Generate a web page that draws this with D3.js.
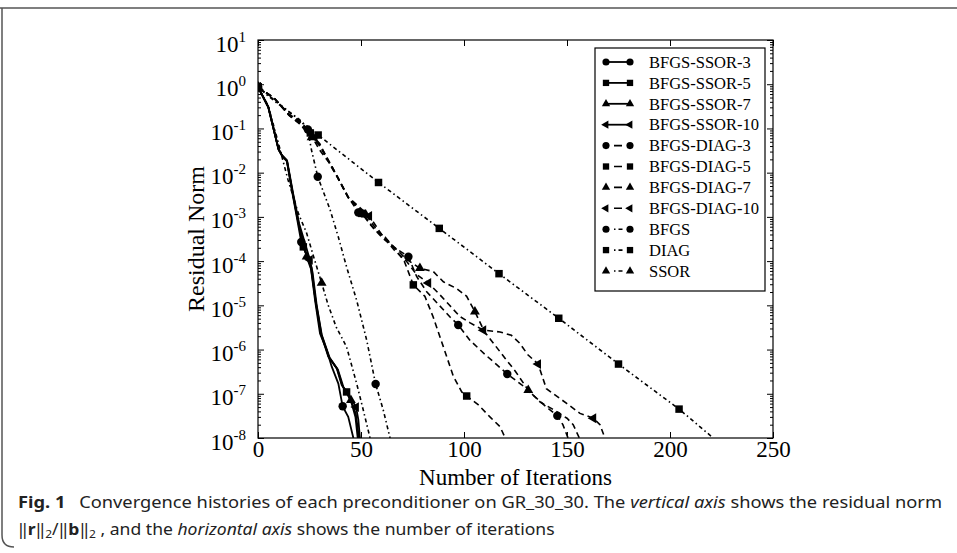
<!DOCTYPE html>
<html>
<head>
<meta charset="utf-8">
<script src="https://cdn.jsdelivr.net/npm/d3@7"></script>
<style>
body{margin:0;background:#fff}
svg{display:block}
</style>
</head>
<body>
<div id="chart"></div>
<script>
const W = 957, H = 553;

const xTicks = [0, 50, 100, 150, 200, 250];
const yDecades = [1, 0, -1, -2, -3, -4, -5, -6, -7, -8];
const legendLabels = ["BFGS-SSOR-3", "BFGS-SSOR-5", "BFGS-SSOR-7", "BFGS-SSOR-10",
  "BFGS-DIAG-3", "BFGS-DIAG-5", "BFGS-DIAG-7", "BFGS-DIAG-10", "BFGS", "DIAG", "SSOR"];

// [iteration, residual norm]
const ssor3 = [[0,0.87],[5,0.31],[9.9,0.035],[11.5,0.025],[13.9,0.0195],[16.4,4.1e-3],[18.5,1.2e-3],
  [21,2.7e-4],[23.5,1.4e-4],[25.5,8e-5],[27.7,1.3e-5],[30.1,2.3e-6],[33.3,9.8e-7],[35.8,4.1e-7],
  [39,1.7e-7],[41.1,5.2e-8],[43.8,3e-8],[46.3,1e-8]];
const ssor3Marks = [0, 21, 41.1];

const ssor5 = [[0,0.87],[5,0.31],[10,0.034],[11.6,0.025],[14,0.019],[16.6,3.9e-3],[19,1e-3],
  [22,2.1e-4],[24.5,1.1e-4],[26,7e-5],[28,1.2e-5],[30.5,2.3e-6],[34.1,6.9e-7],[38.2,3.8e-7],
  [40.6,1.6e-7],[43,1.1e-7],[45.5,6e-8],[47.3,3e-8],[48.4,1e-8]];
const ssor5Marks = [0, 22, 43];

const ssor7 = [[0,0.87],[5,0.3],[10,0.033],[11.7,0.024],[14.1,0.018],[16.8,3.6e-3],[19.5,8e-4],
  [23.6,1.26e-4],[25.8,6.5e-5],[28.2,1.1e-5],[30.8,2.2e-6],[34.5,6.7e-7],[38.5,3.6e-7],
  [41,1.5e-7],[45.1,7.2e-8],[47.5,3.5e-8],[49,1e-8]];
const ssor7Marks = [0, 23.6, 45.1];

const ssor10 = [[0,0.87],[5,0.3],[10,0.033],[11.8,0.024],[14.2,0.018],[17,3.5e-3],[20,7e-4],
  [25.2,1.07e-4],[26.5,5.5e-5],[28.5,1e-5],[31,2.1e-6],[34.8,6.5e-7],[38.8,3.5e-7],
  [41.5,1.4e-7],[45,8e-8],[47.6,5e-8],[48.7,2.6e-8],[49.5,1e-8]];
const ssor10Marks = [0, 25.2, 47.6];

const diag3 = [[0,0.87],[8,0.48],[15,0.21],[20,0.15],[24.2,0.095],[30,0.032],[35.8,0.014],
  [38.7,7.9e-3],[43.8,2.8e-3],[48.7,1.26e-3],[52,1e-3],[56.8,5e-4],[61.7,3.5e-4],[65.7,2.1e-4],
  [73,1.26e-4],[77,4.5e-5],[82,2e-5],[88,1e-5],[93,5.6e-6],[97.2,3.6e-6],[103,1.6e-6],
  [110,7.9e-7],[116,4.5e-7],[121,2.8e-7],[128,1.6e-7],[134,8.9e-8],[140,5e-8],[145.3,3.2e-8],
  [148,2e-8],[150.5,1e-8]];
const diag3Marks = [0, 24.2, 48.7, 73, 97.2, 121, 145.3];

const diag5 = [[0,0.87],[8,0.48],[15,0.21],[20,0.14],[25.4,0.079],[30,0.045],[35.8,0.013],
  [38.7,7.6e-3],[43.8,2.75e-3],[50.4,1.2e-3],[55,6.3e-4],[60,3.5e-4],[66,2e-4],[71,1e-4],
  [75.4,2.9e-5],[81,1.6e-5],[85,5.5e-6],[90,1.15e-6],[94.8,2.5e-7],[98.9,1.1e-7],[101.3,8.9e-8],
  [107,5.6e-8],[112.6,3e-8],[117.5,1.8e-8],[120,1e-8]];
const diag5Marks = [0, 25.4, 50.4, 75.4, 101.3];

const diag7 = [[0,0.87],[8,0.47],[15,0.2],[20,0.13],[26,0.063],[30,0.04],[35.8,0.0135],
  [38.7,7.7e-3],[43.8,2.7e-3],[52.3,1.12e-3],[57,5.6e-4],[62,3.2e-4],[67,1.9e-4],[72,1.1e-4],
  [78.6,6.9e-5],[85.1,5.8e-5],[90,3.4e-5],[96.4,2.4e-5],[101.3,1.6e-5],[105.3,7.2e-6],
  [110,2.5e-6],[115,1.26e-6],[120,6.3e-7],[125,3.2e-7],[131.2,1.2e-7],[137,6.5e-8],
  [143,4.5e-8],[150,2.8e-8],[153,2e-8],[156,1e-8]];
const diag7Marks = [0, 26, 52.3, 78.6, 105.3, 131.2];

const diag10 = [[0,0.87],[8,0.47],[15,0.2],[20,0.13],[27.5,0.063],[31,0.035],[35.8,0.014],
  [38.7,7.8e-3],[43.8,2.8e-3],[54,1.05e-3],[60,4e-4],[66,1.8e-4],[72,1e-4],[77,5e-5],
  [82.7,3.2e-5],[88,1.8e-5],[93,1e-5],[98,5.6e-6],[103,4e-6],[109.4,2.75e-6],[117.5,2.5e-6],
  [123,2.1e-6],[127,1.4e-6],[131,7.6e-7],[136,4.7e-7],[140,1.3e-7],[150,6e-8],[156.3,3.6e-8],
  [162.8,2.8e-8],[166,2e-8],[168.4,1e-8]];
const diag10Marks = [0, 27.5, 54, 82.7, 109.4, 136, 162.8];

const bfgs = [[0,0.87],[5,0.54],[10,0.35],[15,0.24],[20,0.16],[24,0.1],[26,0.032],[29,8.1e-3],
  [35,1.45e-3],[39,3.5e-4],[43,7.4e-5],[47.9,1.3e-5],[52.8,1.6e-6],[57.1,1.66e-7],[60.8,4.3e-8],
  [64.1,1e-8]];
const bfgsMarks = [0, 29, 57.1];

const diag = [[0,0.87],[29.2,0.071],[58.5,6e-3],[88,5.5e-4],[117,5.2e-5],[146,5.1e-6],
  [175,4.7e-7],[204.4,4.5e-8],[221,1e-8]];
const diagMarks = [0, 29.2, 58.5, 88, 117, 146, 175, 204.4];

const ssor = [[0,0.87],[5,0.32],[10,0.045],[12,0.0195],[14.6,6.8e-3],[19.6,1.2e-3],[23.6,4.3e-4],
  [27,1.26e-4],[30.9,3.2e-5],[34.1,1e-5],[38,3.2e-6],[43,1.15e-6],[47.9,1.7e-7],[51.1,4.3e-8],
  [54.4,1e-8]];
const ssorMarks = [0, 30.9];

const series = [
  {data: ssor3, marks: ssor3Marks, dash: null, sym: "circle"},
  {data: ssor5, marks: ssor5Marks, dash: null, sym: "square"},
  {data: ssor7, marks: ssor7Marks, dash: null, sym: "triangle"},
  {data: ssor10, marks: ssor10Marks, dash: null, sym: "left"},
  {data: diag3, marks: diag3Marks, dash: "dash", sym: "circle"},
  {data: diag5, marks: diag5Marks, dash: "dash", sym: "square"},
  {data: diag7, marks: diag7Marks, dash: "dash", sym: "triangle"},
  {data: diag10, marks: diag10Marks, dash: "dash", sym: "left"},
  {data: bfgs, marks: bfgsMarks, dash: "dashdot", sym: "circle"},
  {data: diag, marks: diagMarks, dash: "dashdot", sym: "square"},
  {data: ssor, marks: ssorMarks, dash: "dashdot", sym: "triangle"}
];

const dashes = {dash: "6,4", dashdot: "1.5,3,4,3"};

const pLeft = 258, pRight = 773, pTop = 40, pBottom = 438;
const serif = "'Liberation Serif','Times New Roman',serif";

const svg = d3.select("#chart").append("svg")
    .attr("width", W)
    .attr("height", H);
svg.append("rect").attr("width", W).attr("height", H).attr("fill", "#fff");

// outer figure frame
svg.append("path")
    .attr("d", "M0,8 H957 M2,8 V535 Q2,547 14,547")
    .attr("fill", "none")
    .attr("stroke", "#555")
    .attr("stroke-width", 1.5);

const x = d3.scaleLinear().domain([0, 250]).range([pLeft, pRight]);
const y = d3.scaleLog().domain([1e-8, 10]).range([pBottom, pTop]);

const minors = [];
for (let e = -8; e < 1; e++) for (let m = 2; m <= 9; m++) minors.push(m * Math.pow(10, e));

const axisStyle = sel => {
  sel.select(".domain").remove();
  sel.selectAll(".tick line").attr("stroke", "#000").attr("stroke-width", 1);
  sel.selectAll("text").attr("font-family", serif).attr("font-size", 23).attr("fill", "#000");
};

svg.append("g")
    .attr("transform", "translate(0," + pBottom + ")")
    .call(d3.axisBottom(x).tickValues(xTicks).tickSizeInner(-6).tickSizeOuter(0).tickPadding(3))
    .call(axisStyle);

svg.append("g")
    .attr("transform", "translate(0," + pTop + ")")
    .call(d3.axisTop(x).tickValues(xTicks).tickSizeInner(-6).tickSizeOuter(0).tickFormat(""))
    .call(axisStyle);

const yMajor = yDecades.map(e => Math.pow(10, e));

const gl = svg.append("g")
    .attr("transform", "translate(" + pLeft + ",0)")
    .call(d3.axisLeft(y).tickValues(yMajor).tickSizeInner(-6).tickSizeOuter(0).tickFormat(""))
    .call(axisStyle);
gl.selectAll(".tick").append("text")
    .attr("x", -12)
    .attr("y", 11)
    .attr("text-anchor", "end")
    .attr("font-family", serif)
    .attr("font-size", 23)
    .attr("fill", "#000")
    .each(function(d) {
      const t = d3.select(this);
      t.append("tspan").text("10");
      t.append("tspan").attr("dy", -10).attr("font-size", 15).text(Math.round(Math.log10(d)));
    });
svg.append("g")
    .attr("transform", "translate(" + pLeft + ",0)")
    .call(d3.axisLeft(y).tickValues(minors).tickSizeInner(-3).tickSizeOuter(0).tickFormat(""))
    .call(axisStyle);

svg.append("g")
    .attr("transform", "translate(" + pRight + ",0)")
    .call(d3.axisRight(y).tickValues(yMajor).tickSizeInner(-6).tickSizeOuter(0).tickFormat(""))
    .call(axisStyle);
svg.append("g")
    .attr("transform", "translate(" + pRight + ",0)")
    .call(d3.axisRight(y).tickValues(minors).tickSizeInner(-3).tickSizeOuter(0).tickFormat(""))
    .call(axisStyle);

svg.append("defs").append("clipPath").attr("id", "clip")
  .append("rect").attr("x", pLeft).attr("y", pTop).attr("width", pRight - pLeft).attr("height", pBottom - pTop);

const plot = svg.append("g").attr("clip-path", "url(#clip)");

const line = d3.line()
    .x(d => x(d[0]))
    .y(d => y(d[1]));

const symPath = (sym, size) => {
  if (sym == "circle") return d3.symbol(d3.symbolCircle, size)();
  if (sym == "square") return d3.symbol(d3.symbolSquare, size)();
  return d3.symbol(d3.symbolTriangle, size * 0.75)();
};
const symRot = sym => sym == "left" ? " rotate(-90)" : "";

series.forEach(s => {
  plot.append("path")
      .datum(s.data)
      .attr("d", line)
      .attr("fill", "none")
      .attr("stroke", "#000")
      .attr("stroke-width", s.dash ? 1.6 : 1.8)
      .attr("stroke-dasharray", s.dash ? dashes[s.dash] : null);
  plot.selectAll(null)
      .data(s.data.filter(d => s.marks.includes(d[0])))
      .join("path")
      .attr("d", symPath(s.sym, 56))
      .attr("transform", d => "translate(" + x(d[0]) + "," + y(d[1]) + ")" + symRot(s.sym))
      .attr("fill", "#000");
});

svg.append("rect")
    .attr("x", pLeft).attr("y", pTop)
    .attr("width", pRight - pLeft).attr("height", pBottom - pTop)
    .attr("fill", "none")
    .attr("stroke", "#000")
    .attr("stroke-width", 1.2);

// legend
const lg = svg.append("g").attr("transform", "translate(595,48)");
lg.append("rect")
    .attr("width", 170).attr("height", 243)
    .attr("fill", "#fff").attr("stroke", "#000").attr("stroke-width", 1.2);
const rows = lg.selectAll(".row")
    .data(series)
    .join("g")
    .attr("transform", (d, i) => "translate(0," + (14 + i * 20.9) + ")");
rows.append("line")
    .attr("x1", 11).attr("x2", 35)
    .attr("stroke", "#000")
    .attr("stroke-width", d => d.dash ? 1.6 : 1.8)
    .attr("stroke-dasharray", d => d.dash == "dash" ? "0,8,8,8" : d.dash == "dashdot" ? "0,8,1.5,3,4,8" : null);
rows.selectAll(".m")
    .data(d => [[11, d.sym], [35, d.sym]])
    .join("path")
    .attr("d", d => symPath(d[1], 40))
    .attr("transform", d => "translate(" + d[0] + ",0)" + symRot(d[1]))
    .attr("fill", "#000");
rows.append("text")
    .attr("x", 54)
    .attr("dy", "0.35em")
    .attr("font-family", serif)
    .attr("font-size", 16.5)
    .text((d, i) => legendLabels[i]);

// axis titles
svg.append("text")
    .attr("x", (pLeft + pRight) / 2)
    .attr("y", 485)
    .attr("text-anchor", "middle")
    .attr("font-family", serif)
    .attr("font-size", 23)
    .text("Number of Iterations");
svg.append("text")
    .attr("transform", "translate(204," + (pTop + pBottom) / 2 + ") rotate(-90)")
    .attr("text-anchor", "middle")
    .attr("font-family", serif)
    .attr("font-size", 24)
    .text("Residual Norm");

// caption
const sans = "'Noto Sans','Open Sans',sans-serif";
const cap1 = svg.append("text").attr("font-family", sans).attr("font-size", 16).attr("fill", "#222");
cap1.append("tspan").attr("font-weight", "bold").text("Fig. 1");
cap1.append("tspan").text("\u2002 Convergence histories of each preconditioner on GR_30_30. The ");
cap1.append("tspan").attr("font-style", "italic").text("vertical axis");
cap1.append("tspan").text(" shows the residual norm");

const cap2 = svg.append("text").attr("font-family", sans).attr("font-size", 16).attr("fill", "#222");
cap2.append("tspan").text("\u2016");
cap2.append("tspan").attr("font-weight", "bold").text("r");
cap2.append("tspan").text("\u2016");
cap2.append("tspan").attr("font-size", 11).attr("dy", 3).text("2");
cap2.append("tspan").attr("dy", -3).text("/\u2016");
cap2.append("tspan").attr("font-weight", "bold").text("b");
cap2.append("tspan").text("\u2016");
cap2.append("tspan").attr("font-size", 11).attr("dy", 3).text("2");
cap2.append("tspan").attr("dy", -3).text(" , and the ");
cap2.append("tspan").attr("font-style", "italic").text("horizontal axis");
cap2.append("tspan").text(" shows the number of iterations");

const w1 = cap1.node().getComputedTextLength();
const w2 = cap2.node().getComputedTextLength();
cap1.attr("transform", "translate(18,508) scale(" + (925 / w1) + ",1)");
cap2.attr("transform", "translate(18,535) scale(" + (537 / w2) + ",1)");
</script>
</body>
</html>
